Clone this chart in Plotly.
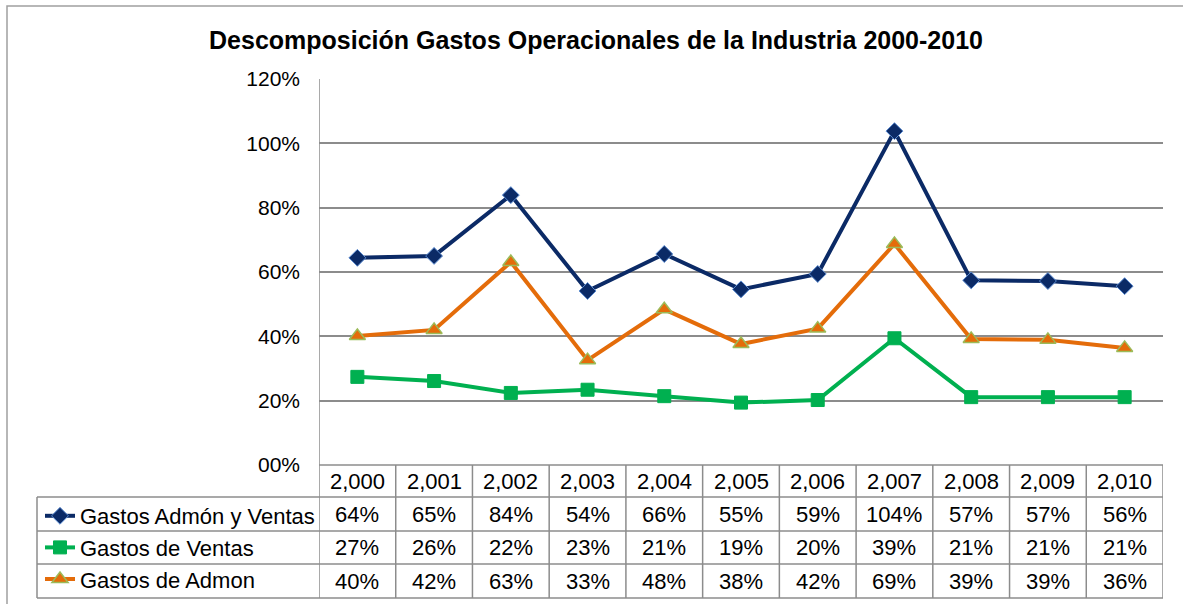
import plotly.graph_objects as go

# ---------------- data ----------------
years = [2000, 2001, 2002, 2003, 2004, 2005, 2006, 2007, 2008, 2009, 2010]
gastos_admon_ventas = [64.4, 65.0, 83.9, 54.1, 65.6, 54.6, 59.4, 103.8, 57.4, 57.2, 55.6]
gastos_ventas = [27.4, 26.1, 22.4, 23.4, 21.4, 19.4, 20.2, 39.4, 21.1, 21.1, 21.1]
gastos_admon = [40.1, 42.0, 63.1, 32.6, 48.4, 37.6, 42.4, 68.7, 39.2, 38.9, 36.4]
series_names = ["Gastos Admón y Ventas", "Gastos de Ventas", "Gastos de Admon"]
y_tick_vals = [0, 20, 40, 60, 80, 100, 120]
y_tick_text = ["00%", "20%", "40%", "60%", "80%", "100%", "120%"]
title_text = "Descomposición Gastos Operacionales de la Industria 2000-2010"

# ---------------- layout helpers (pixels -> paper) ----------------
W, H = 1183, 604
def px(x):
    return x / W
def py(y):
    return 1 - y / H

FONT = "Liberation Sans, Arial, sans-serif"
GRID = "#8c8c8c"
NAVY = "#0b2a66"
GREEN = "#00b050"
ORANGE = "#e46c0a"

plot_left, plot_right, plot_top, plot_bottom = 319, 1163, 79, 465
row_lines = [465, 497, 531, 564, 598]
legend_left = 37

fig = go.Figure()

fig.add_trace(go.Scatter(
    x=years, y=gastos_admon_ventas, name=series_names[0], mode="lines+markers",
    line=dict(color=NAVY, width=4),
    marker=dict(symbol="diamond", size=13, color=NAVY, line=dict(color="#5b8bd0", width=1)),
    legendgroup="a"))
fig.add_trace(go.Scatter(
    x=years, y=gastos_ventas, name=series_names[1], mode="lines+markers",
    line=dict(color=GREEN, width=4),
    marker=dict(symbol="square", size=13, color=GREEN, line=dict(color=GREEN, width=1)),
    legendgroup="b"))
fig.add_trace(go.Scatter(
    x=years, y=gastos_admon, name=series_names[2], mode="lines+markers",
    line=dict(color=ORANGE, width=4),
    marker=dict(symbol="triangle-up", size=14, color=ORANGE, line=dict(color="#9bbb59", width=1.5)),
    legendgroup="c"))

shapes = []
# outer chart border
shapes.append(dict(type="rect", xref="paper", yref="paper",
                   x0=px(7), x1=px(1195), y0=py(615), y1=py(6),
                   line=dict(color="#a0a0a0", width=1.5)))
# table horizontal lines
shapes.append(dict(type="line", xref="paper", yref="paper",
                   x0=px(plot_left), x1=px(plot_right), y0=py(row_lines[0]), y1=py(row_lines[0]),
                   line=dict(color=GRID, width=1.5)))
for r in row_lines[1:]:
    shapes.append(dict(type="line", xref="paper", yref="paper",
                       x0=px(legend_left), x1=px(plot_right), y0=py(r), y1=py(r),
                       line=dict(color=GRID, width=1.5)))
# legend column left border
shapes.append(dict(type="line", xref="paper", yref="paper",
                   x0=px(legend_left), x1=px(legend_left), y0=py(row_lines[1]), y1=py(row_lines[-1]),
                   line=dict(color=GRID, width=1.5)))
# category boundaries
for yr in years:
    shapes.append(dict(type="line", xref="x", yref="paper",
                       x0=yr + 0.5, x1=yr + 0.5, y0=py(row_lines[-1]), y1=py(row_lines[0]),
                       line=dict(color=GRID, width=1.5)))
shapes.append(dict(type="line", xref="x", yref="paper",
                   x0=years[0] - 0.5, x1=years[0] - 0.5, y0=py(row_lines[-1]), y1=py(plot_top),
                   line=dict(color=GRID, width=1.5)))

annotations = []
cell_font = dict(family=FONT, size=22, color="#000000")
row_centers = [(row_lines[k] + row_lines[k + 1]) / 2 for k in range(4)]
for yr in years:
    annotations.append(dict(x=yr, y=py(row_centers[0]), xref="x", yref="paper",
                            text=f"{yr:,}", showarrow=False, font=cell_font,
                            xanchor="center", yanchor="middle"))
for k, vals in enumerate([gastos_admon_ventas, gastos_ventas, gastos_admon]):
    for yr, v in zip(years, vals):
        annotations.append(dict(x=yr, y=py(row_centers[k + 1]), xref="x", yref="paper",
                                text=f"{round(v)}%", showarrow=False, font=cell_font,
                                xanchor="center", yanchor="middle"))

fig.update_layout(
    template="none",
    width=W, height=H,
    margin=dict(l=0, r=0, t=0, b=0, pad=0, autoexpand=False),
    paper_bgcolor="white", plot_bgcolor="white",
    title=dict(text=f"<b>{title_text}</b>", x=px(596), y=py(40), xanchor="center", yanchor="middle",
               font=dict(family=FONT, size=25, color="#000000")),
    xaxis=dict(domain=[px(plot_left), px(plot_right)], range=[years[0] - 0.5, years[-1] + 0.5],
               showticklabels=False, showgrid=False, zeroline=False, ticks="", showline=False,
               automargin=False),
    yaxis=dict(domain=[py(plot_bottom), py(plot_top)], range=[0, 120],
               tickvals=y_tick_vals, ticktext=y_tick_text,
               tickfont=dict(family=FONT, size=21, color="#000000"),
               showgrid=True, gridcolor=GRID, gridwidth=1.5, zeroline=False, showline=False,
               ticks="", ticklabelstandoff=18, automargin=False),
    showlegend=True,
    legend=dict(x=px(legend_left + 3), y=py((row_lines[1] + row_lines[-1]) / 2),
                xanchor="left", yanchor="middle",
                font=dict(family=FONT, size=22, color="#000000"),
                bgcolor="rgba(0,0,0,0)", borderwidth=0, tracegroupgap=9, traceorder="normal",
                itemwidth=30),
    shapes=shapes,
    annotations=annotations,
)

fig.write_html("out.html", config={"displayModeBar": False},
               post_script="document.body.style.margin='0px';")
